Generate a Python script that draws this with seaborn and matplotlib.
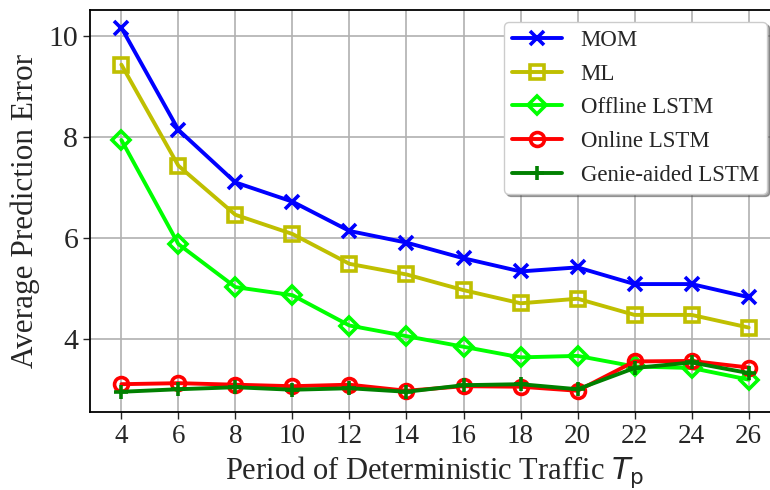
import matplotlib
matplotlib.use("Agg")
import matplotlib.pyplot as plt
import seaborn as sns

# Period of deterministic traffic
periods = [4, 6, 8, 10, 12, 14, 16, 18, 20, 22, 24, 26]

# Average prediction error per method
mom = [10.16, 8.14, 7.10, 6.72, 6.14, 5.91, 5.60, 5.34, 5.42, 5.09, 5.09, 4.83]
ml = [9.43, 7.43, 6.46, 6.08, 5.49, 5.28, 4.97, 4.71, 4.80, 4.48, 4.48, 4.23]
offline_lstm = [7.94, 5.88, 5.03, 4.87, 4.27, 4.06, 3.85, 3.64, 3.67, 3.46, 3.43, 3.20]
online_lstm = [3.11, 3.13, 3.10, 3.07, 3.10, 2.98, 3.07, 3.06, 2.98, 3.56, 3.57, 3.44]
genie_lstm = [2.96, 3.01, 3.05, 3.00, 3.03, 2.96, 3.09, 3.11, 3.01, 3.43, 3.54, 3.33]

labels = ["MOM", "ML", "Offline LSTM", "Online LSTM", "Genie-aided LSTM"]

sns.set_style("ticks")
plt.rcParams["font.family"] = ["Liberation Serif", "DejaVu Serif"]
plt.rcParams["mathtext.fontset"] = "dejavusans"

fig = plt.figure(figsize=(7.7, 4.9), dpi=100)
W, H = 770, 490
ax = fig.add_axes([90 / W, (H - 412) / H, 690 / W, 402 / H])

series = [
    (mom, "b", "x", "full"),
    (ml, "y", "s", "none"),
    (offline_lstm, "lime", "D", "none"),
    (online_lstm, "r", "o", "none"),
    (genie_lstm, "g", "+", "full"),
]

for (vals, col, mk, fill), lab in zip(series, labels):
    sns.lineplot(
        x=periods, y=vals, ax=ax, color=col, marker=mk, label=lab,
        linewidth=2.8, markersize=10 if mk != "D" else 9,
        markeredgewidth=2.6, fillstyle=fill,
        markerfacecolor="none" if fill == "none" else col,
        markeredgecolor=col,
    )

ax.set_xticks(periods)
ax.set_yticks([4, 6, 8, 10])
ax.set_xlim(2.9, 27.1)
ax.set_ylim(2.56, 10.51)
ax.grid(True, color="#b0b0b0", linewidth=1.2)
ax.set_axisbelow(True)
for sp in ax.spines.values():
    sp.set_linewidth(1.3)
    sp.set_color("black")

ax.tick_params(axis="y", labelsize=21.5, length=5, width=1.0)
ax.tick_params(axis="x", labelsize=19.5, length=5, width=1.0)
ax.set_ylabel("Average Prediction Error", fontsize=22.5, labelpad=6)
ax.set_xlabel(r"Period of Deterministic Traffic $T_{\mathrm{p}}$", fontsize=22, labelpad=4)

leg = ax.legend(
    loc="upper right", bbox_to_anchor=(767 / W, 1 - 22 / H),
    bbox_transform=fig.transFigure, fontsize=16.5, shadow=True, fancybox=True,
    framealpha=1, edgecolor="0.8", labelspacing=0.55, handlelength=2.2,
    borderpad=0.35, handletextpad=0.8, borderaxespad=0,
)

fig.savefig("out.png", dpi=100)
